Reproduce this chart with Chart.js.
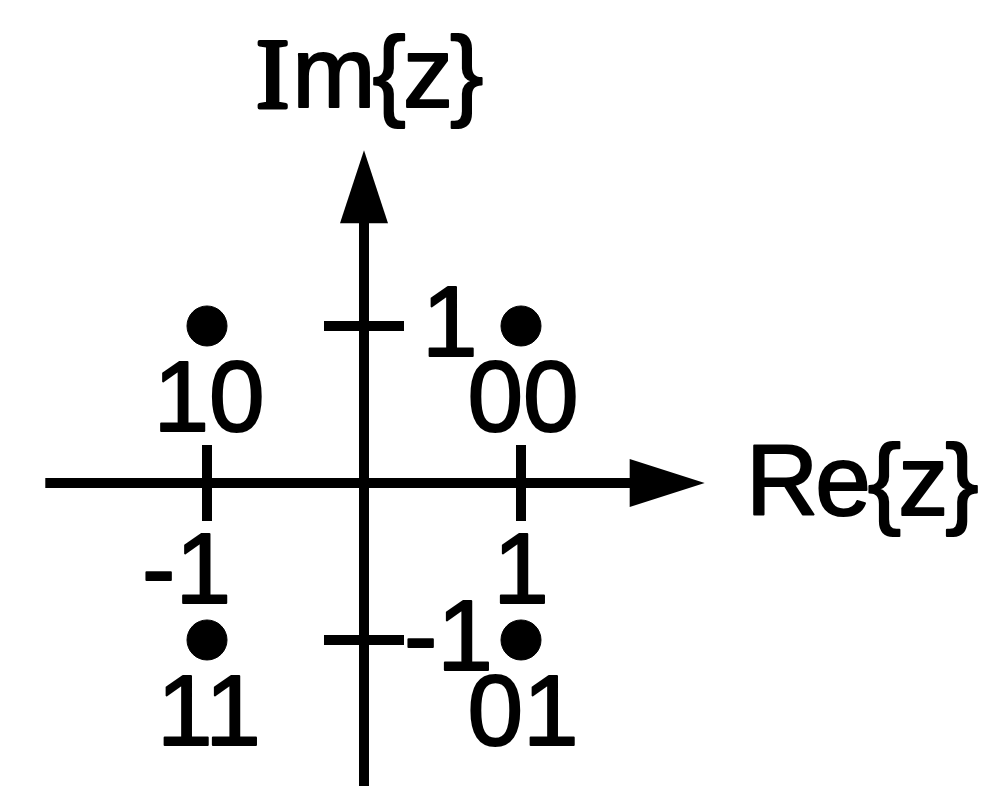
<!DOCTYPE html>
<html lang="en">
<head>
    <meta charset="UTF-8">
    <title>QPSK constellation</title>
    <script src="https://cdn.jsdelivr.net/npm/chart.js"></script>
    <style>
        html, body {
            margin: 0;
            padding: 0;
            background-color: #ffffff;
            overflow: hidden;
        }

        #constellation {
            display: block;
        }
    </style>
</head>
<body>
    <canvas id="constellation" width="981" height="786"></canvas>

    <script>
        // Constellation symbols
        const symbolRe = [1, 1, -1, -1];
        const symbolIm = [1, -1, 1, -1];
        const symbolBits = ['00', '01', '10', '11'];

        // Axis ticks
        const reTicks = [-1, 1];
        const reTickLabels = ['-1', '1'];
        const imTicks = [1, -1];
        const imTickLabels = ['1', '-1'];

        const sans = '"Liberation Sans", Arial, sans-serif';
        const serif = '"Liberation Serif", "Times New Roman", serif';

        // fill + thin stroke, the original lettering is a bit heavier than regular
        function heavyText(ctx, text, x, y) {
            ctx.fillText(text, x, y);
            ctx.strokeText(text, x, y);
        }

        // Draws the arrowed axes, tick marks and all texts
        const axesPlugin = {
            id: 'axesPlugin',
            beforeDatasetsDraw(chart) {
                const ctx = chart.ctx;
                const x = chart.scales.x;
                const y = chart.scales.y;
                const x0 = x.getPixelForValue(0);
                const y0 = y.getPixelForValue(0);
                const reEnd = x.getPixelForValue(2.17);
                const imEnd = y.getPixelForValue(2.12);

                ctx.save();
                ctx.strokeStyle = '#000';
                ctx.fillStyle = '#000';
                ctx.lineWidth = 10;

                // Re axis
                ctx.beginPath();
                ctx.moveTo(x.getPixelForValue(-2.03), y0);
                ctx.lineTo(reEnd - 70, y0);
                ctx.stroke();
                ctx.beginPath();
                ctx.moveTo(reEnd, y0);
                ctx.lineTo(reEnd - 75, y0 - 24);
                ctx.lineTo(reEnd - 75, y0 + 24);
                ctx.closePath();
                ctx.fill();

                // Im axis
                ctx.beginPath();
                ctx.moveTo(x0, chart.chartArea.bottom);
                ctx.lineTo(x0, imEnd + 70);
                ctx.stroke();
                ctx.beginPath();
                ctx.moveTo(x0, imEnd);
                ctx.lineTo(x0 - 24, imEnd + 73);
                ctx.lineTo(x0 + 24, imEnd + 73);
                ctx.closePath();
                ctx.fill();

                // Tick marks
                ctx.beginPath();
                reTicks.forEach(v => {
                    const px = x.getPixelForValue(v);
                    ctx.moveTo(px, y0 - 38);
                    ctx.lineTo(px, y0 + 38);
                });
                imTicks.forEach(v => {
                    const py = y.getPixelForValue(v);
                    ctx.moveTo(x0 - 40, py);
                    ctx.lineTo(x0 + 40, py);
                });
                ctx.stroke();

                // Tick labels
                ctx.lineWidth = 2;
                ctx.lineJoin = 'round';
                ctx.font = '100px ' + sans;
                ctx.textBaseline = 'alphabetic';
                reTicks.forEach((v, i) => {
                    const px = x.getPixelForValue(v);
                    if (reTickLabels[i].startsWith('-')) {
                        ctx.textAlign = 'right';
                        heavyText(ctx, reTickLabels[i], px + 24, y0 + 120);
                    } else {
                        ctx.textAlign = 'center';
                        heavyText(ctx, reTickLabels[i], px, y0 + 120);
                    }
                });
                ctx.textAlign = 'left';
                imTicks.forEach((v, i) => {
                    const py = y.getPixelForValue(v);
                    const dx = imTickLabels[i].startsWith('-') ? 40 : 58;
                    heavyText(ctx, imTickLabels[i], x0 + dx, py + 30);
                });

                // Axis titles
                ctx.textAlign = 'left';
                ctx.font = '100px ' + serif;
                const imLeft = 256;
                ctx.lineWidth = 4;
                heavyText(ctx, 'I', imLeft, 107);
                ctx.lineWidth = 2;
                const iw = ctx.measureText('I').width;
                ctx.font = '100px ' + sans;
                ctx.letterSpacing = '-3px';
                heavyText(ctx, 'm{z}', imLeft + iw + 3, 107);
                heavyText(ctx, 'Re{z}', 746, 515);
                ctx.letterSpacing = '0px';

                ctx.restore();
            },
            afterDatasetsDraw(chart) {
                const ctx = chart.ctx;
                const meta = chart.getDatasetMeta(0);
                ctx.save();
                ctx.fillStyle = '#000';
                ctx.strokeStyle = '#000';
                ctx.lineWidth = 2;
                ctx.lineJoin = 'round';
                ctx.font = '100px ' + sans;
                ctx.textAlign = 'center';
                ctx.textBaseline = 'alphabetic';
                meta.data.forEach((pt, i) => {
                    heavyText(ctx, symbolBits[i], pt.x + 2, pt.y + 105);
                });
                ctx.restore();
            }
        };

        const ctx = document.getElementById('constellation').getContext('2d');
        new Chart(ctx, {
            type: 'scatter',
            data: {
                datasets: [{
                    label: 'Symbols',
                    data: symbolRe.map((re, i) => ({ x: re, y: symbolIm[i] })),
                    backgroundColor: '#000',
                    borderColor: '#000',
                    pointRadius: 20,
                    pointHoverRadius: 20
                }]
            },
            options: {
                responsive: false,
                animation: false,
                layout: { padding: 0, autoPadding: false },
                plugins: {
                    legend: { display: false },
                    tooltip: { enabled: false }
                },
                scales: {
                    x: { type: 'linear', min: -2.3185, max: 3.930, display: false },
                    y: { type: 'linear', min: -1.930, max: 3.0764, display: false }
                }
            },
            plugins: [axesPlugin]
        });
    </script>
</body>
</html>
